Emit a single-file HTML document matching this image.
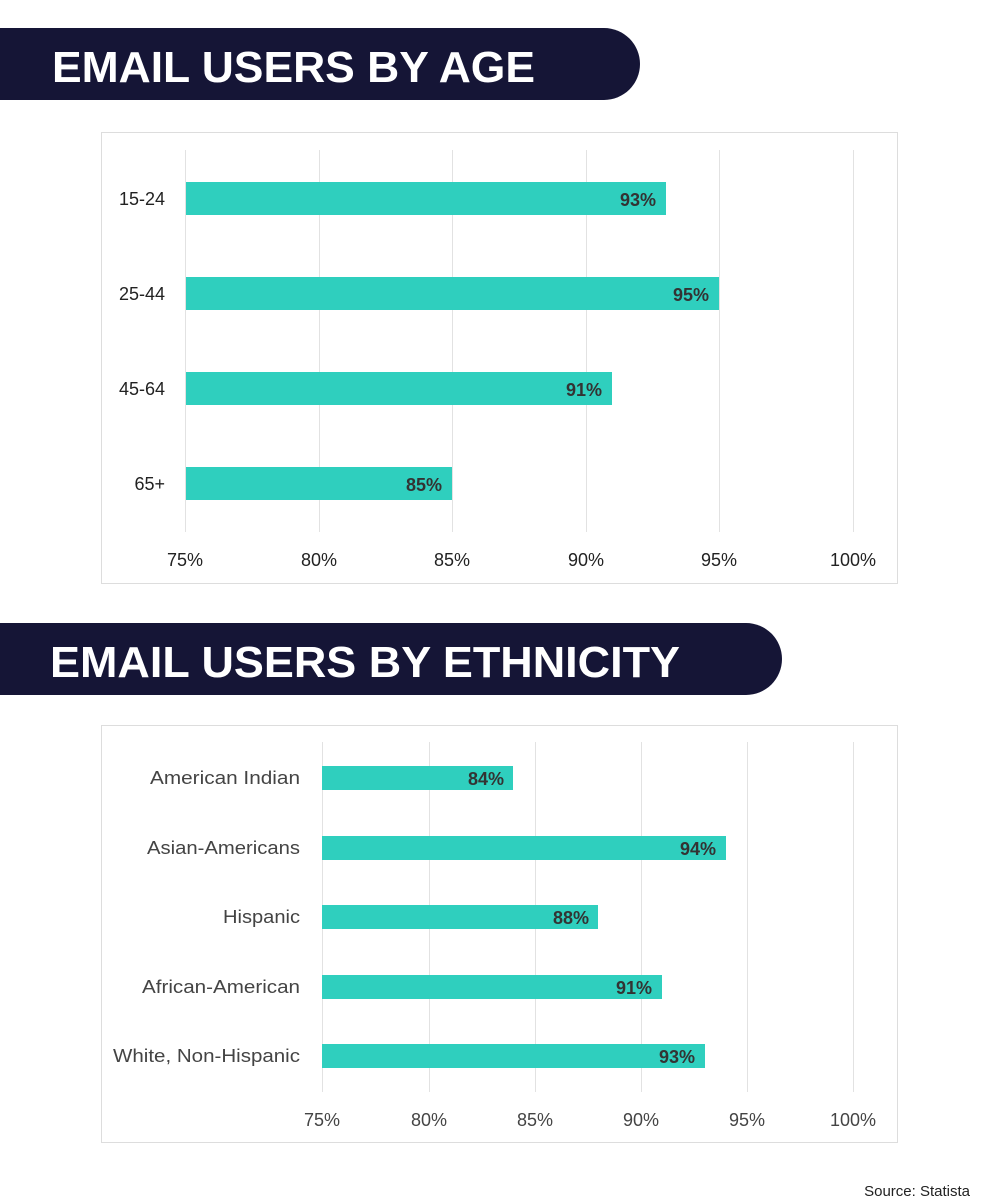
<!DOCTYPE html>
<html><head><meta charset="utf-8"><style>
html,body{margin:0;padding:0;background:#fff;width:1000px;height:1200px;overflow:hidden}
svg{display:block}
</style></head><body>
<svg width="1000" height="1200" viewBox="0 0 1000 1200" xmlns="http://www.w3.org/2000/svg" font-family="Liberation Sans, sans-serif">
<path d="M0 28 H604 A36 36 0 0 1 604 100 H0 Z" fill="#151536"/>
<text x="52" y="82" fill="#fff" font-size="44" font-weight="bold" textLength="483" lengthAdjust="spacingAndGlyphs">EMAIL USERS BY AGE</text>
<rect x="101.5" y="132.5" width="796" height="451" fill="#fff" stroke="#ddd"/>
<g stroke="#e2e2e2" stroke-width="1">
<line x1="185.5" y1="150" x2="185.5" y2="532"/><line x1="319.5" y1="150" x2="319.5" y2="532"/>
<line x1="452.5" y1="150" x2="452.5" y2="532"/><line x1="586.5" y1="150" x2="586.5" y2="532"/>
<line x1="719.5" y1="150" x2="719.5" y2="532"/><line x1="853.5" y1="150" x2="853.5" y2="532"/>
</g>
<g fill="#2fcfbe">
<rect x="186" y="182" width="480" height="33"/>
<rect x="186" y="277" width="533" height="33"/>
<rect x="186" y="372" width="426" height="33"/>
<rect x="186" y="467" width="266" height="33"/>
</g>
<g fill="#333" font-size="18" font-weight="bold" text-anchor="end">
<text x="656" y="206">93%</text><text x="709" y="301">95%</text>
<text x="602" y="396">91%</text><text x="442" y="491">85%</text>
</g>
<g fill="#222" font-size="18" text-anchor="end">
<text x="165" y="205">15-24</text><text x="165" y="300">25-44</text>
<text x="165" y="395">45-64</text><text x="165" y="490">65+</text>
</g>
<g fill="#222" font-size="18" text-anchor="middle">
<text x="185" y="566">75%</text><text x="319" y="566">80%</text><text x="452" y="566">85%</text>
<text x="586" y="566">90%</text><text x="719" y="566">95%</text><text x="853" y="566">100%</text>
</g>
<path d="M0 623 H746 A36 36 0 0 1 746 695 H0 Z" fill="#151536"/>
<text x="50" y="677" fill="#fff" font-size="44" font-weight="bold" textLength="630" lengthAdjust="spacingAndGlyphs">EMAIL USERS BY ETHNICITY</text>
<rect x="101.5" y="725.5" width="796" height="417" fill="#fff" stroke="#ddd"/>
<g stroke="#e2e2e2" stroke-width="1">
<line x1="322.5" y1="742" x2="322.5" y2="1092"/><line x1="429.5" y1="742" x2="429.5" y2="1092"/>
<line x1="535.5" y1="742" x2="535.5" y2="1092"/><line x1="641.5" y1="742" x2="641.5" y2="1092"/>
<line x1="747.5" y1="742" x2="747.5" y2="1092"/><line x1="853.5" y1="742" x2="853.5" y2="1092"/>
</g>
<g fill="#2fcfbe">
<rect x="322" y="766" width="191" height="24"/>
<rect x="322" y="836" width="404" height="24"/>
<rect x="322" y="905" width="276" height="24"/>
<rect x="322" y="975" width="340" height="24"/>
<rect x="322" y="1044" width="383" height="24"/>
</g>
<g fill="#333" font-size="18" font-weight="bold" text-anchor="end">
<text x="504" y="785">84%</text><text x="716" y="855">94%</text>
<text x="589" y="924">88%</text><text x="652" y="994">91%</text><text x="695" y="1063">93%</text>
</g>
<g fill="#444" font-size="18">
<text x="150" y="784" textLength="150" lengthAdjust="spacingAndGlyphs">American Indian</text>
<text x="147" y="854" textLength="153" lengthAdjust="spacingAndGlyphs">Asian-Americans</text>
<text x="223" y="923" textLength="77" lengthAdjust="spacingAndGlyphs">Hispanic</text>
<text x="142" y="993" textLength="158" lengthAdjust="spacingAndGlyphs">African-American</text>
<text x="113" y="1062" textLength="187" lengthAdjust="spacingAndGlyphs">White, Non-Hispanic</text>
</g>
<g fill="#444" font-size="18" text-anchor="middle">
<text x="322" y="1126">75%</text><text x="429" y="1126">80%</text><text x="535" y="1126">85%</text>
<text x="641" y="1126">90%</text><text x="747" y="1126">95%</text><text x="853" y="1126">100%</text>
</g>
<text x="970" y="1196" fill="#222" font-size="15" text-anchor="end">Source: Statista</text>
</svg>
</body></html>
